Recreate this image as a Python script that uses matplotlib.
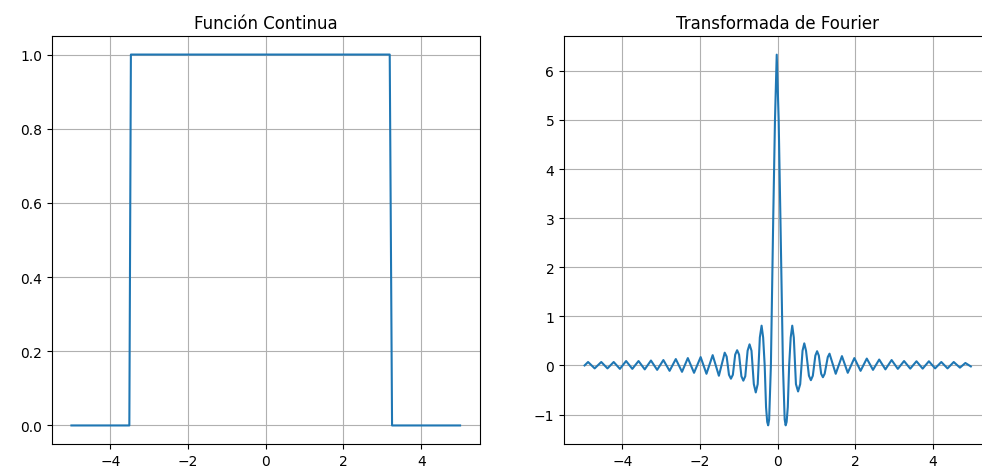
import matplotlib
matplotlib.use("Agg")
import matplotlib.pyplot as plt

# Left panel: rectangular pulse
rect_x = [-5.0, -3.51, -3.47, 3.19, 3.25, 5.0]
rect_y = [0.0, 0.0, 1.0, 1.0, 0.0, 0.0]

# Right panel: transform curve
ft_x = [-4.97, -4.88, -4.71, -4.54, -4.38, -4.22, -4.06, -3.90, -3.74, -3.58,
        -3.42, -3.26, -3.10, -2.94, -2.78, -2.62, -2.46, -2.31, -2.15, -1.98,
        -1.83, -1.67, -1.51,
        -1.36, -1.31, -1.25, -1.20, -1.15, -1.09, -1.04, -0.99, -0.93, -0.88,
        -0.83, -0.77, -0.72, -0.67, -0.61, -0.56, -0.51, -0.455, -0.41, -0.37,
        -0.33, -0.295, -0.265, -0.24, -0.215, -0.17, -0.11, -0.065, -0.02, 0.03,
        0.075, 0.14, 0.185, 0.21, 0.235, 0.265, 0.30, 0.34, 0.38, 0.42,
        0.475, 0.53, 0.585, 0.645, 0.69, 0.735, 0.81, 0.86, 0.91, 0.975,
        1.02, 1.065, 1.125, 1.17, 1.215, 1.295, 1.34,
        1.50, 1.66, 1.81, 1.98, 2.14, 2.30, 2.46,
        2.62, 2.78, 2.94, 3.10, 3.26, 3.42, 3.58, 3.74, 3.90, 4.06,
        4.22, 4.38, 4.54, 4.70, 4.84, 4.98]
ft_y = [0.00, 0.07, -0.06, 0.07, -0.06, 0.07, -0.07, 0.09, -0.07, 0.09,
        -0.08, 0.10, -0.09, 0.11, -0.11, 0.13, -0.13, 0.15, -0.15, 0.17,
        -0.17, 0.21, -0.21,
        0.26, 0.18, -0.19, -0.27, -0.19, 0.22, 0.31, 0.22, -0.22, -0.31,
        -0.22, 0.30, 0.43, 0.30, -0.38, -0.55, -0.38, 0.57, 0.81, 0.57,
        0.00, -0.85, -1.15, -1.22, -1.10, 0.00, 3.00, 5.00, 6.33, 5.00,
        3.00, 0.00, -1.10, -1.22, -1.15, -0.85, 0.00, 0.57, 0.81, 0.57,
        -0.38, -0.53, -0.38, 0.30, 0.45, 0.30, -0.21, -0.30, -0.21, 0.20,
        0.29, 0.20, -0.17, -0.24, -0.17, 0.17, 0.24,
        -0.17, 0.19, -0.15, 0.15, -0.11, 0.14, -0.09,
        0.12, -0.08, 0.11, -0.07, 0.09, -0.065, 0.085, -0.065, 0.085, -0.06,
        0.07, -0.06, 0.07, -0.045, 0.05, -0.02]

left_title = "Función Continua"
right_title = "Transformada de Fourier"
left_yticks = [0.0, 0.2, 0.4, 0.6, 0.8, 1.0]
right_yticks = [-1, 0, 1, 2, 3, 4, 5, 6]
xticks = [-4, -2, 0, 2, 4]

W, H = 982, 477
fig = plt.figure(figsize=(W / 100, H / 100), dpi=100)
ax1 = fig.add_axes([52 / W, 1 - 445 / H, (479.5 - 52) / W, (445 - 37) / H])
ax2 = fig.add_axes([564 / W, 1 - 445 / H, (991 - 564) / W, (445 - 37) / H])

ax1.plot(rect_x, rect_y, color="#1f77b4", linewidth=1.5)
ax1.set_title(left_title, fontsize=12)
ax1.set_xlim(-5.5, 5.5)
ax1.set_ylim(-0.05, 1.05)
ax1.set_yticks(left_yticks)
ax1.set_xticks(xticks)
ax1.grid(True)

ax2.plot(ft_x, ft_y, color="#1f77b4", linewidth=1.5)
ax2.set_title(right_title, fontsize=12)
ax2.set_xlim(-5.5, 5.5)
ax2.set_ylim(-1.6, 6.71)
ax2.set_yticks(right_yticks)
ax2.set_xticks(xticks)
ax2.grid(True)

fig.savefig("out.png", dpi=100)
